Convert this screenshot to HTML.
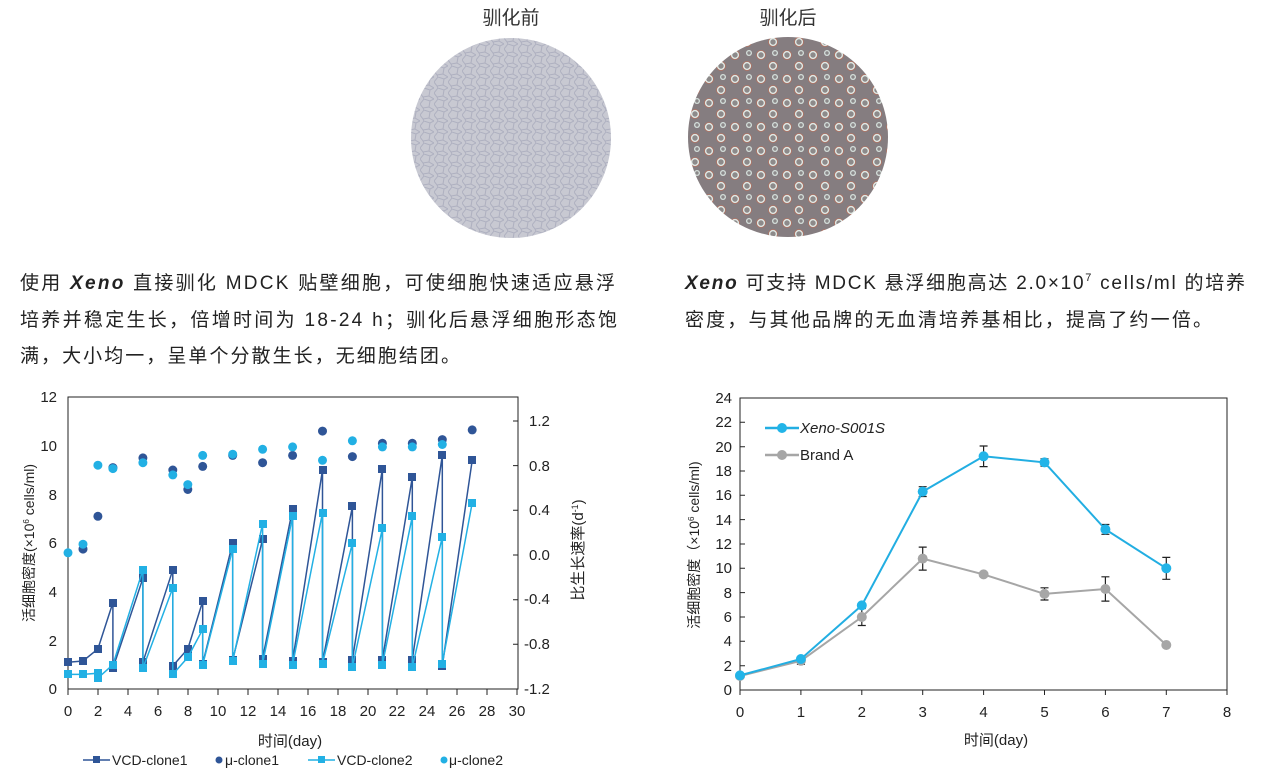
<!DOCTYPE html>
<html><head><meta charset="utf-8"><style>
body{margin:0;background:#fff;width:1261px;height:777px;overflow:hidden;font-family:"Liberation Sans","Noto Sans CJK SC",sans-serif;}
</style></head><body>
<svg width="1261" height="777" viewBox="0 0 1261 777" xmlns="http://www.w3.org/2000/svg" font-family="Liberation Sans, Noto Sans CJK SC, sans-serif">
<defs>
<pattern id="cells" width="14" height="11" patternUnits="userSpaceOnUse">
<rect width="14" height="11" fill="#c8c9d2"/>
<path d="M0 5 L4 0 M4 0 L10 2 L14 0 M10 2 L9 8 L14 11 M9 8 L3 9 L0 5 M3 9 L4 11" stroke="#aeb0c0" stroke-width="1" fill="none"/>
</pattern>
<pattern id="dots" width="26" height="24" patternUnits="userSpaceOnUse">
<rect width="26" height="24" fill="#857d80"/>
<circle cx="7" cy="7" r="4.5" fill="#dfe8e4" stroke="#b07060" stroke-width="0.8"/><circle cx="7" cy="7" r="2.7" fill="#8d8a8a"/>
<circle cx="19" cy="18" r="4.5" fill="#dfe8e4" stroke="#b07060" stroke-width="0.8"/><circle cx="19" cy="18" r="2.7" fill="#8d8a8a"/>
<circle cx="21" cy="5" r="3" fill="#d6e0dc"/><circle cx="21" cy="5" r="1.7" fill="#8a8788"/>
</pattern>
</defs>
<text x="511" y="24" font-size="19" text-anchor="middle" fill="#333">驯化前</text>
<text x="788" y="24" font-size="19" text-anchor="middle" fill="#333">驯化后</text>
<circle cx="511" cy="138" r="100" fill="url(#cells)"/>
<circle cx="788" cy="137" r="100" fill="url(#dots)"/>
<g font-size="19" fill="#222">
<text x="20" y="289" textLength="595" lengthAdjust="spacing">使用 <tspan font-style="italic" font-weight="bold">Xeno</tspan> 直接驯化 MDCK 贴壁细胞，可使细胞快速适应悬浮</text>
<text x="20" y="326" textLength="597" lengthAdjust="spacing">培养并稳定生长，倍增时间为 18-24 h；驯化后悬浮细胞形态饱</text>
<text x="20" y="362" textLength="440" lengthAdjust="spacing">满，大小均一，呈单个分散生长，无细胞结团。</text>
<text x="685" y="289" textLength="560" lengthAdjust="spacing"><tspan font-style="italic" font-weight="bold">Xeno</tspan> 可支持 MDCK 悬浮细胞高达 2.0×10<tspan font-size="11" dy="-8">7</tspan><tspan dy="8"> cells/ml 的培养</tspan></text>
<text x="685" y="326" textLength="527" lengthAdjust="spacing">密度，与其他品牌的无血清培养基相比，提高了约一倍。</text>
</g>
<!-- left chart -->
<rect x="68" y="397" width="450" height="292" fill="none" stroke="#222" stroke-width="1"/>
<g stroke="#222" stroke-width="1">
<path d="M68 689v6M98 689v6M128 689v6M158 689v6M188 689v6M218 689v6M248 689v6M278 689v6M308 689v6M338 689v6M368 689v6M397 689v6M427 689v6M457 689v6M487 689v6M517 689v6"/>
<path d="M518 421h-5M518 465.6h-5M518 510.3h-5M518 555h-5M518 599.7h-5M518 644.3h-5M518 689h-5"/>
</g>
<g font-size="15" fill="#222" text-anchor="end">
<text x="57" y="402">12</text><text x="57" y="451">10</text><text x="57" y="500">8</text><text x="57" y="548">6</text><text x="57" y="597">4</text><text x="57" y="646">2</text><text x="57" y="694">0</text>
</g>
<g font-size="15" fill="#222" text-anchor="start">
<text x="529" y="426">1.2</text><text x="529" y="471">0.8</text><text x="529" y="515">0.4</text><text x="529" y="560">0.0</text><text x="524" y="604">-0.4</text><text x="524" y="649">-0.8</text><text x="524" y="694">-1.2</text>
</g>
<g font-size="15" fill="#222" text-anchor="middle">
<text x="68" y="716">0</text><text x="98" y="716">2</text><text x="128" y="716">4</text><text x="158" y="716">6</text><text x="188" y="716">8</text><text x="218" y="716">10</text><text x="248" y="716">12</text><text x="278" y="716">14</text><text x="308" y="716">16</text><text x="338" y="716">18</text><text x="368" y="716">20</text><text x="397" y="716">22</text><text x="427" y="716">24</text><text x="457" y="716">26</text><text x="487" y="716">28</text><text x="517" y="716">30</text>
<text x="290" y="746" font-size="15">时间(day)</text>
</g>
<text transform="translate(34,543) rotate(-90)" font-size="14" fill="#222" text-anchor="middle">活细胞密度(×10<tspan font-size="8" dy="-5">6</tspan><tspan dy="5"> cells/ml)</tspan></text>
<text transform="translate(583,550) rotate(-90)" font-size="15" fill="#222" text-anchor="middle">比生长速率(d<tspan font-size="9" dy="-5">-1</tspan><tspan dy="5">)</tspan></text>
<!-- clone1 -->
<polyline fill="none" stroke="#2f5597" stroke-width="1.5" points="68,662.2 83,661 97.9,648.9 112.9,602.6 112.9,668.3 142.9,578.3 142.9,662.2 172.8,569.8 172.8,665.9 187.8,648.9 202.7,601.4 202.7,663.5 232.7,543 232.7,659.8 262.6,539.4 262.6,658.6 292.6,509 292.6,661 322.5,470 322.5,662.2 352.4,506.5 352.4,659.8 382.4,468.8 382.4,659.8 412.3,477.3 412.3,659.8 442.3,455.4 442.3,665.9 472.2,460.3"/>
<g fill="#2f5597">
<rect x="64" y="658" width="8" height="8"/><rect x="79" y="657" width="8" height="8"/><rect x="94" y="645" width="8" height="8"/><rect x="109" y="599" width="8" height="8"/><rect x="109" y="664" width="8" height="8"/><rect x="139" y="574" width="8" height="8"/><rect x="139" y="658" width="8" height="8"/><rect x="169" y="566" width="8" height="8"/><rect x="169" y="662" width="8" height="8"/><rect x="184" y="645" width="8" height="8"/><rect x="199" y="597" width="8" height="8"/><rect x="199" y="660" width="8" height="8"/><rect x="229" y="539" width="8" height="8"/><rect x="229" y="656" width="8" height="8"/><rect x="259" y="535" width="8" height="8"/><rect x="259" y="655" width="8" height="8"/><rect x="289" y="505" width="8" height="8"/><rect x="289" y="657" width="8" height="8"/><rect x="319" y="466" width="8" height="8"/><rect x="319" y="658" width="8" height="8"/><rect x="348" y="502" width="8" height="8"/><rect x="348" y="656" width="8" height="8"/><rect x="378" y="465" width="8" height="8"/><rect x="378" y="656" width="8" height="8"/><rect x="408" y="473" width="8" height="8"/><rect x="408" y="656" width="8" height="8"/><rect x="438" y="451" width="8" height="8"/><rect x="438" y="662" width="8" height="8"/><rect x="468" y="456" width="8" height="8"/>
</g>
<!-- clone2 -->
<polyline fill="none" stroke="#22b0e4" stroke-width="1.5" points="68,674.4 83,674.4 97.9,673.2 97.9,678.1 112.9,664.7 142.9,569.8 142.9,668.3 172.8,588 172.8,674.4 187.8,657.4 202.7,629.4 202.7,664.7 232.7,549.1 232.7,661 262.6,523.6 262.6,663.5 292.6,516.3 292.6,664.7 322.5,512.6 322.5,663.5 352.4,543 352.4,667.1 382.4,528.4 382.4,664.7 412.3,516.3 412.3,667.1 442.3,536.9 442.3,663.5 472.2,502.9"/>
<g fill="#22b0e4">
<rect x="64" y="670" width="8" height="8"/><rect x="79" y="670" width="8" height="8"/><rect x="94" y="669" width="8" height="8"/><rect x="94" y="674" width="8" height="8"/><rect x="109" y="661" width="8" height="8"/><rect x="139" y="566" width="8" height="8"/><rect x="139" y="664" width="8" height="8"/><rect x="169" y="584" width="8" height="8"/><rect x="169" y="670" width="8" height="8"/><rect x="184" y="653" width="8" height="8"/><rect x="199" y="625" width="8" height="8"/><rect x="199" y="661" width="8" height="8"/><rect x="229" y="545" width="8" height="8"/><rect x="229" y="657" width="8" height="8"/><rect x="259" y="520" width="8" height="8"/><rect x="259" y="660" width="8" height="8"/><rect x="289" y="512" width="8" height="8"/><rect x="289" y="661" width="8" height="8"/><rect x="319" y="509" width="8" height="8"/><rect x="319" y="660" width="8" height="8"/><rect x="348" y="539" width="8" height="8"/><rect x="348" y="663" width="8" height="8"/><rect x="378" y="524" width="8" height="8"/><rect x="378" y="661" width="8" height="8"/><rect x="408" y="512" width="8" height="8"/><rect x="408" y="663" width="8" height="8"/><rect x="438" y="533" width="8" height="8"/><rect x="438" y="660" width="8" height="8"/><rect x="468" y="499" width="8" height="8"/>
</g>
<g fill="#2f5597">
<circle cx="83" cy="549.1" r="4.5"/><circle cx="97.9" cy="516.3" r="4.5"/><circle cx="112.9" cy="467.6" r="4.5"/><circle cx="142.9" cy="457.9" r="4.5"/><circle cx="172.8" cy="470" r="4.5"/><circle cx="187.8" cy="489.5" r="4.5"/><circle cx="202.7" cy="466.4" r="4.5"/><circle cx="232.7" cy="455.4" r="4.5"/><circle cx="262.6" cy="462.7" r="4.5"/><circle cx="292.6" cy="455.4" r="4.5"/><circle cx="322.5" cy="431.1" r="4.5"/><circle cx="352.4" cy="456.6" r="4.5"/><circle cx="382.4" cy="443.3" r="4.5"/><circle cx="412.3" cy="443.3" r="4.5"/><circle cx="442.3" cy="439.6" r="4.5"/><circle cx="472.2" cy="429.9" r="4.5"/>
</g>
<g fill="#22b0e4">
<circle cx="68" cy="552.8" r="4.5"/><circle cx="83" cy="544.2" r="4.5"/><circle cx="97.9" cy="465.2" r="4.5"/><circle cx="112.9" cy="468.6" r="4.5"/><circle cx="142.9" cy="462.7" r="4.5"/><circle cx="172.8" cy="474.9" r="4.5"/><circle cx="187.8" cy="484.6" r="4.5"/><circle cx="202.7" cy="455.4" r="4.5"/><circle cx="232.7" cy="454.2" r="4.5"/><circle cx="262.6" cy="449.3" r="4.5"/><circle cx="292.6" cy="446.9" r="4.5"/><circle cx="322.5" cy="460.3" r="4.5"/><circle cx="352.4" cy="440.8" r="4.5"/><circle cx="382.4" cy="446.9" r="4.5"/><circle cx="412.3" cy="446.9" r="4.5"/><circle cx="442.3" cy="444.5" r="4.5"/>
</g>
<!-- legend left -->
<line x1="83" y1="760" x2="110" y2="760" stroke="#2f5597" stroke-width="1.5"/><rect x="93" y="756" width="7" height="7" fill="#2f5597"/>
<text x="112" y="765" font-size="14" fill="#222">VCD-clone1</text>
<circle cx="219" cy="760" r="3.5" fill="#2f5597"/><text x="225" y="765" font-size="14" fill="#222">μ-clone1</text>
<line x1="308" y1="760" x2="335" y2="760" stroke="#22b0e4" stroke-width="1.5"/><rect x="318" y="756" width="7" height="7" fill="#22b0e4"/>
<text x="337" y="765" font-size="14" fill="#222">VCD-clone2</text>
<circle cx="444" cy="760" r="3.5" fill="#22b0e4"/><text x="449" y="765" font-size="14" fill="#222">μ-clone2</text>
<!-- right chart -->
<rect x="740" y="398" width="487" height="292" fill="none" stroke="#222" stroke-width="1"/>
<g stroke="#222" stroke-width="1">
<path d="M740 690v5M800.9 690v5M861.8 690v5M922.7 690v5M983.6 690v5M1044.5 690v5M1105.4 690v5M1166.3 690v5M1227 690v5"/>
<path d="M740 398h5M740 422.3h5M740 446.7h5M740 471h5M740 495.3h5M740 519.6h5M740 544h5M740 568.3h5M740 592.6h5M740 617h5M740 641.3h5M740 665.7h5"/>
</g>
<g font-size="15" fill="#222" text-anchor="end">
<text x="732" y="403">24</text><text x="732" y="427">22</text><text x="732" y="452">20</text><text x="732" y="476">18</text><text x="732" y="500">16</text><text x="732" y="525">14</text><text x="732" y="549">12</text><text x="732" y="573">10</text><text x="732" y="598">8</text><text x="732" y="622">6</text><text x="732" y="646">4</text><text x="732" y="671">2</text><text x="732" y="695">0</text>
</g>
<g font-size="15" fill="#222" text-anchor="middle">
<text x="740" y="717">0</text><text x="800.9" y="717">1</text><text x="861.8" y="717">2</text><text x="922.7" y="717">3</text><text x="983.6" y="717">4</text><text x="1044.5" y="717">5</text><text x="1105.4" y="717">6</text><text x="1166.3" y="717">7</text><text x="1227" y="717">8</text>
<text x="996" y="745">时间(day)</text>
</g>
<text transform="translate(699,545) rotate(-90)" font-size="14" fill="#222" text-anchor="middle">活细胞密度（×10<tspan font-size="8" dy="-5">6</tspan><tspan dy="5"> cells/ml)</tspan></text>
<g stroke="#222" stroke-width="1.2" fill="none">
<path d="M922.7 486.7v9.8M918.7 486.7h8M918.7 496.5h8"/>
<path d="M983.6 446v20.6M979.6 446h8M979.6 466.6h8"/>
<path d="M1044.5 458.8v7.3M1040.5 458.8h8M1040.5 466.1h8"/>
<path d="M1105.4 524.5v9.8M1101.4 524.5h8M1101.4 534.3h8"/>
<path d="M1166.3 557.4v21.9M1162.3 557.4h8M1162.3 579.3h8"/>
<path d="M800.9 657.1v7.3M796.9 657.1h8M796.9 664.4h8"/>
<path d="M861.8 608.5v17M857.8 608.5h8M857.8 625.5h8"/>
<path d="M922.7 547.1v23M918.7 547.1h8M918.7 570.1h8"/>
<path d="M1044.5 587.8v12.2M1040.5 587.8h8M1040.5 600h8"/>
<path d="M1105.4 576.8v24.3M1101.4 576.8h8M1101.4 601.1h8"/>
</g>
<polyline fill="none" stroke="#a6a6a6" stroke-width="2" points="740,676 800.9,660.8 861.8,617 922.7,558.6 983.6,574.4 1044.5,593.9 1105.4,589 1166.3,645"/>
<g fill="#a6a6a6"><circle cx="740" cy="676" r="5"/><circle cx="800.9" cy="660.8" r="5"/><circle cx="861.8" cy="617" r="5"/><circle cx="922.7" cy="558.6" r="5"/><circle cx="983.6" cy="574.4" r="5"/><circle cx="1044.5" cy="593.9" r="5"/><circle cx="1105.4" cy="589" r="5"/><circle cx="1166.3" cy="645" r="5"/></g>
<polyline fill="none" stroke="#22aee2" stroke-width="2" points="740,675.4 800.9,659 861.8,605.4 922.7,491.6 983.6,456.3 1044.5,462.4 1105.4,529.4 1166.3,568.3"/>
<g fill="#22b4e8"><circle cx="740" cy="675.4" r="5"/><circle cx="800.9" cy="659" r="5"/><circle cx="861.8" cy="605.4" r="5"/><circle cx="922.7" cy="491.6" r="5"/><circle cx="983.6" cy="456.3" r="5"/><circle cx="1044.5" cy="462.4" r="5"/><circle cx="1105.4" cy="529.4" r="5"/><circle cx="1166.3" cy="568.3" r="5"/></g>
<line x1="765" y1="428" x2="799" y2="428" stroke="#22aee2" stroke-width="2.5"/><circle cx="782" cy="428" r="5" fill="#22b4e8"/>
<text x="800" y="433" font-size="15" font-style="italic" fill="#222">Xeno-S001S</text>
<line x1="765" y1="455" x2="799" y2="455" stroke="#a6a6a6" stroke-width="2.5"/><circle cx="782" cy="455" r="5" fill="#a6a6a6"/>
<text x="800" y="460" font-size="15" fill="#222">Brand A</text>
</svg>
</body></html>
